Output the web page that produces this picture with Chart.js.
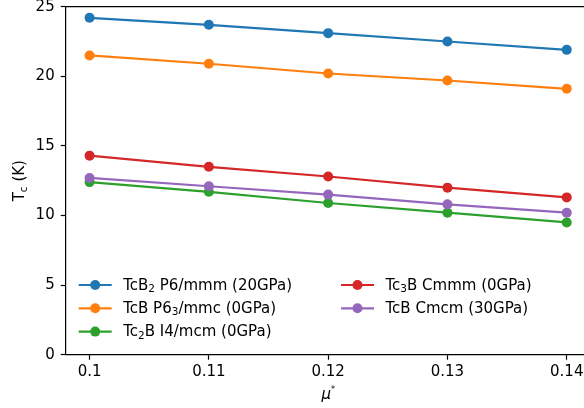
<!DOCTYPE html>
<html>
<head>
<meta charset="utf-8">
<script src="https://cdn.jsdelivr.net/npm/chart.js@4.4.0/dist/chart.umd.min.js"></script>
<style>
  html, body { margin: 0; padding: 0; background: #fff; overflow: hidden; }
  #wrap { width: 584px; height: 408px; overflow: hidden; }
</style>
</head>
<body>
<div id="wrap"><canvas id="chart" width="600" height="408"></canvas></div>
<script>
// data
const muValues = [0.1, 0.11, 0.12, 0.13, 0.14];
const muTickLabels = ["0.1", "0.11", "0.12", "0.13", "0.14"];
const tcTicks = [0, 5, 10, 15, 20, 25];

const seriesNames = [
  "TcB_2 P6/mmm (20GPa)",
  "TcB P6_3/mmc (0GPa)",
  "Tc_2B I4/mcm (0GPa)",
  "Tc_3B Cmmm (0GPa)",
  "TcB Cmcm (30GPa)"
];
const tcB2_P6mmm = [24.2, 23.7, 23.1, 22.5, 21.9];
const tcB_P63mmc = [21.5, 20.9, 20.2, 19.7, 19.1];
const tc2B_I4mcm = [12.4, 11.7, 10.9, 10.2, 9.5];
const tc3B_Cmmm = [14.3, 13.5, 12.8, 12.0, 11.3];
const tcB_Cmcm = [12.7, 12.1, 11.5, 10.8, 10.2];

const seriesValues = [tcB2_P6mmm, tcB_P63mmc, tc2B_I4mcm, tc3B_Cmmm, tcB_Cmcm];
const seriesColors = ["#1f77b4", "#ff7f0e", "#2ca02c", "#d62728", "#9467bd"];

const FONT = "'DejaVu Sans', sans-serif";
const FS = 15;

// "_d" in a label means a subscript digit
function richSegments(text, size) {
  const segs = [];
  text.split(/(_\d)/).forEach(part => {
    if (!part) return;
    if (part[0] === "_") segs.push({ t: part.slice(1), size: size * 0.7, dy: size * 0.22 });
    else segs.push({ t: part, size: size, dy: 0 });
  });
  return segs;
}

function drawSegments(ctx, segs, x, y, align) {
  const fontOf = s => (s.italic ? "italic " : "") + s.size + "px " + FONT;
  let total = 0;
  segs.forEach(s => { ctx.font = fontOf(s); s.w = ctx.measureText(s.t).width; total += s.w; });
  let cx = align === "center" ? x - total / 2 : x;
  ctx.textAlign = "left";
  segs.forEach(s => {
    ctx.font = fontOf(s);
    ctx.fillText(s.t, cx, y + (s.dy || 0));
    cx += s.w;
  });
}

// top spine, legend and axis titles (right spine falls outside the crop)
const decorPlugin = {
  id: "decor",
  afterDraw(chart) {
    const ctx = chart.ctx;
    const a = chart.chartArea;
    ctx.save();
    ctx.strokeStyle = "#000";
    ctx.lineWidth = 1.2;
    ctx.beginPath();
    ctx.moveTo(a.left, a.top);
    ctx.lineTo(a.right, a.top);
    ctx.stroke();

    // legend, column-major, 3 rows
    ctx.textBaseline = "middle";
    chart.data.datasets.forEach((ds, i) => {
      const col = Math.floor(i / 3), row = i % 3;
      const x0 = a.left + 13 + col * 262.3;
      const y = a.bottom - 69.7 + row * 23.3;
      ctx.strokeStyle = ds.borderColor;
      ctx.lineWidth = 2.2;
      ctx.beginPath();
      ctx.moveTo(x0, y);
      ctx.lineTo(x0 + 33, y);
      ctx.stroke();
      ctx.fillStyle = ds.borderColor;
      ctx.beginPath();
      ctx.arc(x0 + 16.5, y, 5, 0, Math.PI * 2);
      ctx.fill();
      ctx.fillStyle = "#000";
      drawSegments(ctx, richSegments(seriesNames[i], FS), x0 + 44.5, y + 1, "left");
    });

    // y title: T_c (K)
    ctx.save();
    ctx.translate(20.5, (a.top + a.bottom) / 2);
    ctx.rotate(-Math.PI / 2);
    drawSegments(ctx, [
      { t: "T", size: FS },
      { t: "c", size: 10.5, dy: 3.3 },
      { t: " (K)", size: FS }
    ], 0, 0, "center");
    ctx.restore();

    // x title: mu*
    drawSegments(ctx, [
      { t: "μ", size: FS, italic: true },
      { t: "*", size: 8, dy: -5 }
    ], (a.left + a.right) / 2, 395, "center");
    ctx.restore();
  }
};

const datasets = seriesValues.map((vals, i) => ({
  label: seriesNames[i],
  data: muValues.map((x, j) => ({ x: x, y: vals[j] })),
  borderColor: seriesColors[i],
  backgroundColor: seriesColors[i],
  pointBackgroundColor: seriesColors[i],
  borderWidth: 2.2,
  pointRadius: 5,
  pointBorderWidth: 0,
  tension: 0,
  order: seriesValues.length - i
}));

const tickFont = { family: FONT, size: FS };

new Chart(document.getElementById("chart"), {
  type: "line",
  data: { datasets: datasets },
  plugins: [decorPlugin],
  options: {
    responsive: false,
    animation: false,
    devicePixelRatio: 1,
    layout: { padding: { top: 6.7, right: 9.4, left: 0, bottom: 0 } },
    plugins: { legend: { display: false }, tooltip: { enabled: false } },
    scales: {
      x: {
        type: "linear",
        min: 0.098,
        max: 0.142,
        afterBuildTicks: s => { s.ticks = muValues.map(v => ({ value: v })); },
        afterFit: s => { s.height = 53.3; s.paddingLeft = 0; s.paddingRight = 0; },
        ticks: {
          color: "#000",
          font: tickFont,
          padding: 3,
          maxRotation: 0,
          autoSkip: false,
          callback: v => muTickLabels[muValues.indexOf(v)]
        },
        grid: { drawOnChartArea: false, drawTicks: true, tickLength: 5, tickWidth: 1.2, tickColor: "#000" },
        border: { display: true, color: "#000", width: 1.2 }
      },
      y: {
        min: 0,
        max: 25,
        afterBuildTicks: s => { s.ticks = tcTicks.map(v => ({ value: v })); },
        afterFit: s => { s.width = 65.7; s.paddingTop = 0; s.paddingBottom = 0; },
        ticks: { color: "#000", font: tickFont, padding: 6 },
        grid: { drawOnChartArea: false, drawTicks: true, tickLength: 5, tickWidth: 1.2, tickColor: "#000" },
        border: { display: true, color: "#000", width: 1.2 }
      }
    }
  }
});
</script>
</body>
</html>
